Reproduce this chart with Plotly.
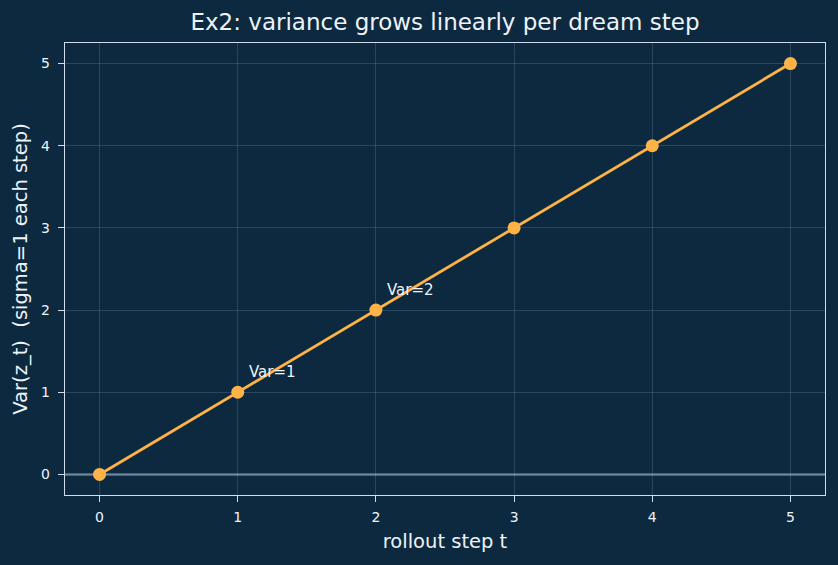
import plotly.graph_objects as go

steps = [0, 1, 2, 3, 4, 5]
variance = [0, 1, 2, 3, 4, 5]
ann_x = [1, 2]
ann_y = [1, 2]
ann_text = ["Var=1", "Var=2"]

bg = "#0c2940"
fg = "#eef3f8"
spine = "#cfdeec"
line_c = "#ffb347"
font_fam = "DejaVu Sans"

fig = go.Figure()
fig.add_trace(go.Scatter(
    x=steps, y=variance, mode="lines+markers",
    line=dict(color=line_c, width=2.8),
    marker=dict(color=line_c, size=13),
    showlegend=False,
))

for x, y, t in zip(ann_x, ann_y, ann_text):
    fig.add_annotation(x=x, y=y, text=t, showarrow=False,
                       xanchor="left", yanchor="bottom", xshift=9, yshift=9,
                       font=dict(size=15, color=fg, family=font_fam))

fig.add_shape(type="line", xref="paper", x0=0, x1=1, yref="y", y0=0, y1=0,
              line=dict(color="rgba(150,172,188,0.6)", width=2.5), layer="below")

axis_common = dict(
    showline=True, linecolor=spine, linewidth=1.4, mirror=True,
    ticks="outside", ticklen=6, tickcolor=spine, tickwidth=1.3,
    showgrid=True, gridcolor="rgba(200,215,230,0.17)", gridwidth=1,
    zeroline=False,
    tickfont=dict(size=14, color=fg, family=font_fam),
)

fig.update_layout(
    width=838, height=565,
    paper_bgcolor=bg, plot_bgcolor=bg,
    margin=dict(l=65, r=13, t=43, b=70),
    title=dict(text="Ex2: variance grows linearly per dream step",
               x=(65 + 380) / 838, xanchor="center", y=1 - 22 / 565, yanchor="middle",
               font=dict(size=23, color=fg, family=font_fam)),
    xaxis=dict(range=[-0.25, 5.25], tickvals=steps, ticktext=[str(s) for s in steps],
               ticklabelstandoff=3,
               title=dict(text="rollout step t", font=dict(size=19.5, color=fg, family=font_fam), standoff=10),
               **axis_common),
    yaxis=dict(range=[-0.25, 5.25], tickvals=[0, 1, 2, 3, 4, 5],
               ticklabelstandoff=5,
               title=dict(text="Var(z_t)  (sigma=1 each step)", font=dict(size=19.5, color=fg, family=font_fam), standoff=8),
               **axis_common),
)

fig.write_html("out.html")
